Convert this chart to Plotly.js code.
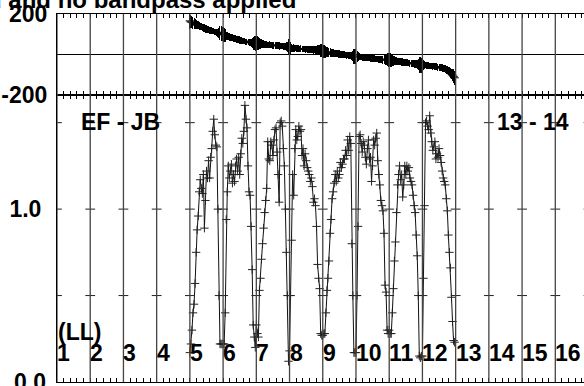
<!DOCTYPE html>
<html>
<head>
<meta charset="utf-8">
<script src="https://cdn.plot.ly/plotly-3.0.1.min.js"></script>
<style>html,body{margin:0;padding:0;background:#fff;}#plot{width:584px;height:386px;}
#plot .errorbar path{shape-rendering:crispEdges;}</style>
</head>
<body>
<div id="plot"></div>
<script>
// ---- data ----
const IF_LABELS = ['1','2','3','4','5','6','7','8','9','10','11','12','13','14','15','16'];
const DATA_IFS = [5, 6, 7, 8, 9, 10, 11, 12];
const NCHAN = 32;
const AMP_TICKS = [0.5, 1.0, 1.5];
const PHASE_TICKVALS = [-200, 200];
const PHASE_TICKTEXT = ['-200', '200'];
const AMP_TICKVALS = [1];
const AMP_TICKTEXT = ['1.0'];
const AMP_ZERO_TEXT = '0.0';
const TITLE_TEXT = 'd and no bandpass applied';
const BASELINE_TEXT = 'EF - JB';
const TIME_TEXT = '13 - 14';
const POL_TEXT = '(LL)';

const amp5  = [0.17,0.22,0.30,0.40,0.45,0.57,0.75,0.88,0.96,1.10,1.17,1.12,1.09,1.20,0.89,1.05,1.22,1.18,1.28,1.18,1.30,1.35,1.45,1.52,1.43,1.37,1.36,1.00,0.50,0.22,0.22,0.22];
const amp6  = [0.22,0.22,0.40,0.94,1.10,1.25,1.18,1.22,1.26,1.15,1.20,1.16,1.25,1.29,1.22,1.30,1.20,1.32,1.41,1.38,1.45,1.60,1.52,1.47,1.25,1.10,1.08,0.90,0.65,0.33,0.26,0.20];
const amp7  = [0.33,0.28,0.26,0.53,0.60,0.71,0.80,0.89,0.98,1.05,1.12,1.39,1.29,1.28,1.39,1.37,1.31,1.40,1.46,1.47,1.33,1.20,1.04,1.50,1.51,1.48,1.35,1.25,1.00,0.75,0.50,0.12];
const amp8  = [0.18,0.50,0.82,1.20,1.08,1.35,1.46,1.40,1.42,1.48,1.45,1.46,1.31,1.35,1.25,1.32,1.28,1.24,1.22,1.20,1.16,1.18,1.13,1.04,1.06,1.02,0.90,0.68,0.60,0.54,0.28,0.27];
const amp9  = [0.27,0.28,0.28,0.40,0.53,0.60,0.70,0.86,0.94,1.06,1.10,1.15,1.20,1.16,1.22,1.18,1.20,1.27,1.24,1.26,1.29,1.29,1.34,1.31,1.40,1.34,1.42,1.38,0.80,0.50,0.17,0.17];
const amp10 = [0.17,0.50,0.90,1.42,1.43,1.38,1.33,1.39,1.37,1.30,1.26,1.35,1.40,1.29,1.30,1.16,1.25,1.40,1.37,1.41,1.44,1.28,1.20,1.14,1.05,1.02,0.99,0.86,0.56,0.52,0.30,0.28];
const amp11 = [0.30,0.28,0.28,0.40,0.54,0.70,0.81,0.98,1.14,1.20,1.25,1.17,1.20,1.07,1.14,1.25,1.20,1.25,1.22,1.24,1.18,1.16,1.14,1.08,1.02,0.98,0.85,0.73,0.50,0.15,0.14,0.15];
const amp12 = [0.15,0.60,1.02,1.50,1.51,1.48,1.46,1.54,1.44,1.39,1.34,1.36,1.39,1.29,1.32,1.30,1.35,1.31,1.27,1.22,1.18,1.16,1.14,1.06,0.99,0.85,0.75,0.66,0.49,0.35,0.24,0.23];

const ph5  = [166,161,159,156,154,150,149,145,144,141,138,137,134,131,131,127,126,124,123,120,119,118,115,115,112,111,110,108,107,105,104,102];
const ph6  = [99,97,94,93,90,90,87,85,84,83,80,78,78,75,74,73,71,70,69,67,66,65,63,62,62,60,59,58,57,56,55,53];
const ph7  = [57,55,54,55,52,53,51,51,50,49,49,48,47,48,46,46,45,45,44,45,43,43,42,42,41,42,40,40,39,39,38,38];
const ph8  = [33,32,33,31,31,30,31,29,30,29,28,29,27,28,27,26,27,25,26,25,25,24,25,23,24,23,22,23,22,21,22,20];
const ph9  = [15,14,13,13,11,11,10,9,9,7,7,6,5,5,4,3,3,2,1,1,0,-1,-2,-3,-3,-5,-5,-6,-7,-8,-9,-11];
const ph10 = [-9,-10,-10,-11,-12,-12,-13,-14,-14,-15,-15,-16,-17,-17,-18,-18,-19,-20,-20,-21,-21,-22,-23,-23,-24,-24,-25,-25,-26,-27,-27,-28];
const ph11 = [-27,-28,-29,-30,-30,-31,-32,-33,-34,-34,-35,-36,-37,-37,-38,-39,-40,-41,-41,-42,-43,-44,-45,-45,-46,-47,-48,-49,-50,-51,-52,-53];
const ph12 = [-50,-51,-52,-53,-54,-55,-55,-56,-57,-57,-58,-58,-59,-60,-61,-62,-63,-64,-65,-67,-68,-70,-72,-75,-78,-82,-86,-91,-96,-102,-108,-115];

const err5  = [38,32,30,28,26,24,22,21,20,19,18,18,19,18,22,20,18,18,17,18,17,16,16,16,16,17,17,20,24,34,36,34];
const err6  = [36,36,30,20,19,17,18,18,17,18,18,18,17,17,18,17,18,17,16,16,16,15,15,16,17,19,19,21,25,32,34,36];
const err7  = [32,34,34,26,24,22,21,20,19,19,18,16,17,17,16,16,17,16,16,16,17,18,19,16,16,16,17,17,19,22,26,38];
const err8  = [36,28,21,18,19,17,16,16,16,16,16,16,17,16,17,17,17,17,18,18,18,18,18,19,19,19,21,23,24,25,32,33];
const err9  = [33,32,32,28,25,24,22,21,20,19,19,18,18,18,18,18,18,17,17,17,17,17,16,17,16,17,16,16,21,26,38,38];
const err10 = [38,26,20,16,16,16,17,16,16,17,17,16,16,17,17,18,17,16,16,16,16,17,18,18,19,19,20,21,25,26,32,33];
const err11 = [32,33,33,28,25,22,21,19,18,18,17,18,18,19,18,17,18,17,18,17,18,18,18,19,19,20,21,22,26,38,38,38];
const err12 = [38,26,19,16,16,16,16,15,16,16,17,16,16,17,17,17,16,17,17,18,18,18,18,19,19,21,22,23,26,29,34,35];

// ---- assemble ----
const AMPS = [amp5, amp6, amp7, amp8, amp9, amp10, amp11, amp12];
const PHS = [ph5, ph6, ph7, ph8, ph9, ph10, ph11, ph12];
const ERRS = [err5, err6, err7, err8, err9, err10, err11, err12];
const xs = [], amps = [], phs = [], errs = [];
DATA_IFS.forEach((ifn, j) => {
  for (let k = 0; k < NCHAN; k++) {
    xs.push((ifn - 1) + k / NCHAN);
    amps.push(AMPS[j][k]); phs.push(PHS[j][k]); errs.push(ERRS[j][k]);
  }
});

const FONT = {family: 'Liberation Sans, Arial, sans-serif', size: 23, color: '#000', weight: 'bold'};
const LINEC = '#111';

// IF boundaries
const bounds = IF_LABELS.map((_, i) => i);
const tickX = [], tickY = [];
bounds.concat([IF_LABELS.length]).forEach(b => AMP_TICKS.forEach(v => { tickX.push(b); tickY.push(v); }));

const traces = [
  {x: xs, y: amps, xaxis: 'x', yaxis: 'y', type: 'scatter', mode: 'lines+markers',
   line: {color: LINEC, width: 1},
   marker: {symbol: 'cross-thin', size: 6, line: {color: '#222', width: 1}}, hoverinfo: 'skip'},
  {x: xs, y: phs, xaxis: 'x2', yaxis: 'y2', type: 'scatter', mode: 'lines+markers',
   line: {color: '#000', width: 1},
   marker: {symbol: 'line-ew', size: 6, line: {color: '#000', width: 1}},
   error_y: {type: 'data', array: errs, visible: true, thickness: 1, width: 0, color: '#000'}, hoverinfo: 'skip'},
  {x: tickX, y: tickY, xaxis: 'x', yaxis: 'y', type: 'scatter', mode: 'markers', cliponaxis: true,
   marker: {symbol: 'line-ew', size: 7, line: {color: '#222', width: 1}}, hoverinfo: 'skip'}
];

const XR = [0, 15.864];
const split = 1 - 81 / 368;
const shapes = bounds.map(b => ({type: 'line', xref: 'x', yref: 'paper', x0: b, x1: b, y0: 0, y1: 1,
  line: {color: '#444', width: 1.3}}));

const annotations = IF_LABELS.map((t, i) => ({text: t, xref: 'x', yref: 'paper', x: i, y: 0.0788,
  xanchor: 'left', yanchor: 'middle', xshift: -1, showarrow: false, font: FONT, borderpad: 0}));
annotations.push({text: POL_TEXT, xref: 'paper', yref: 'paper', x: 0, y: 0.1359, xanchor: 'left', yanchor: 'middle', showarrow: false, font: FONT, borderpad: 0});
annotations.push({text: BASELINE_TEXT, xref: 'paper', yref: 'paper', x: 0.0436, y: 0.7065, xanchor: 'left', yanchor: 'middle', showarrow: false, font: FONT, borderpad: 0});
annotations.push({text: TIME_TEXT, xref: 'paper', yref: 'paper', x: 0.833, y: 0.7065, xanchor: 'left', yanchor: 'middle', showarrow: false, font: FONT, borderpad: 0});
annotations.push({text: AMP_ZERO_TEXT, xref: 'paper', yref: 'paper', x: -10 / 527, y: 0, xanchor: 'right', yanchor: 'middle', showarrow: false, font: FONT, borderpad: 0});
annotations.push({text: TITLE_TEXT, xref: 'paper', yref: 'paper', x: 0.4554, y: 1.0, xanchor: 'right', yanchor: 'bottom', showarrow: false, font: Object.assign({}, FONT, {size: 24}), borderpad: 0});

const xcommon = {range: XR, showgrid: false, zeroline: false, showline: true, linecolor: '#000', linewidth: 1,
  mirror: 'ticks', ticks: 'inside', ticklen: 4, tickcolor: '#000', dtick: 0.2, tick0: 0, showticklabels: false};

const layout = {
  width: 584, height: 386,
  margin: {l: 57, r: 0, t: 14, b: 4, pad: 0},
  paper_bgcolor: '#fff', plot_bgcolor: '#fff',
  showlegend: false,
  font: FONT,
  xaxis: Object.assign({}, xcommon, {anchor: 'y', domain: [0, 1]}),
  xaxis2: Object.assign({}, xcommon, {anchor: 'y2', domain: [0, 1], matches: 'x'}),
  yaxis: {domain: [0, split], range: [0, 1.66], showgrid: false, zeroline: false, showline: true, linecolor: '#000',
    tickvals: AMP_TICKVALS, ticktext: AMP_TICKTEXT, ticks: '', ticklabelstandoff: 10, tickfont: FONT},
  yaxis2: {domain: [split, 1], range: [-200, 200], showgrid: false, zeroline: true, zerolinecolor: '#000', zerolinewidth: 1,
    showline: true, linecolor: '#000',
    tickvals: PHASE_TICKVALS, ticktext: PHASE_TICKTEXT, ticks: '', ticklabelstandoff: 4, tickfont: FONT},
  shapes: shapes,
  annotations: annotations
};

Plotly.newPlot('plot', traces, layout, {staticPlot: true, displayModeBar: false});
</script>
</body>
</html>
